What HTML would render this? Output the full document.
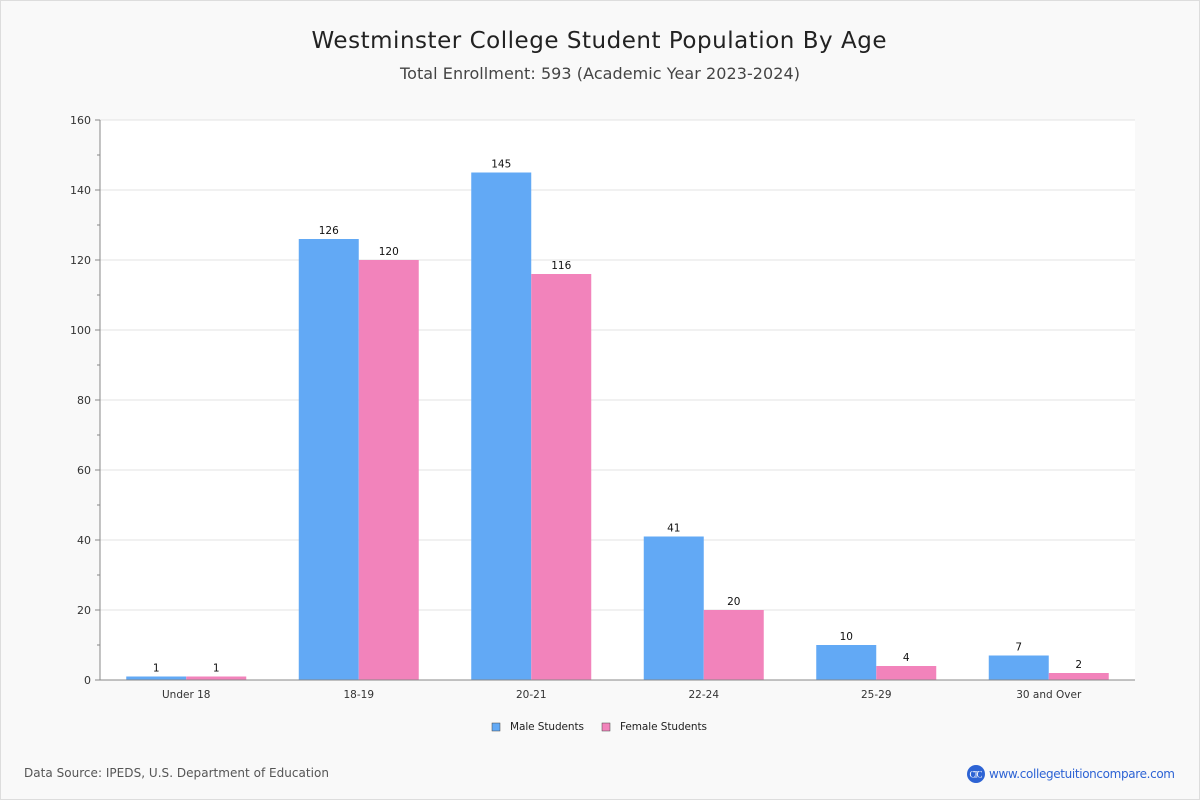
<!DOCTYPE html>
<html><head><meta charset="utf-8">
<style>
body{margin:0;width:1200px;height:800px;overflow:hidden;font-family:"DejaVu Sans","Liberation Sans",sans-serif;}
#wrap{position:absolute;left:0;top:0;width:1198px;height:798px;background:#f9f9f9;border:1px solid #ddd;}
</style></head>
<body>
<div id="wrap">
<svg id="chart" width="1200" height="800" style="position:absolute;left:-1px;top:-1px">
<text x="599" y="48" text-anchor="middle" font-size="23" textLength="575" fill="#222">Westminster College Student Population By Age</text>
<text x="600" y="79" text-anchor="middle" font-size="16" textLength="400" fill="#444">Total Enrollment: 593 (Academic Year 2023-2024)</text>
<rect x="100" y="120" width="1035" height="560" fill="#fff"/>
<g id="grid"></g><g id="bars"></g><g id="axes"></g>
<g>
<rect x="492" y="723" width="8" height="8" fill="#62a9f5" stroke="#444" stroke-width="0.5"/>
<text x="510" y="730" font-size="10.5" textLength="74" fill="#222">Male Students</text>
<rect x="602" y="723" width="8" height="8" fill="#f283bb" stroke="#444" stroke-width="0.5"/>
<text x="620" y="730" font-size="10.5" textLength="87" fill="#222">Female Students</text>
</g>
<text x="24" y="777" font-size="12" textLength="305" fill="#555">Data Source: IPEDS, U.S. Department of Education</text>
<circle cx="976" cy="774" r="9" fill="#2d63d4"/>
<text x="976" y="777.5" text-anchor="middle" font-size="9" textLength="13" fill="#fff" font-family="Liberation Serif,serif">CTC</text>
<text x="989" y="778" font-size="12" textLength="186" fill="#2d63d4">www.collegetuitioncompare.com</text>
</svg>
</div>
<script>
const categories=["Under 18","18-19","20-21","22-24","25-29","30 and Over"];
const maleValues=[1,126,145,41,10,7];
const femaleValues=[1,120,116,20,4,2];
const yTicks=[0,20,40,60,80,100,120,140,160];
const NS="http://www.w3.org/2000/svg";
const X0=100,X1=1135,Y0=680,Y1=120,YMAX=160;
const y=v=>Y0-(v/YMAX)*(Y0-Y1);
const band=(X1-X0)/categories.length;
const cx=i=>X0+band*(i+0.5);
function mk(tag,attrs,parent){const e=document.createElementNS(NS,tag);for(const k in attrs)e.setAttribute(k,attrs[k]);document.getElementById(parent).appendChild(e);return e;}
yTicks.forEach(t=>{
  const l=mk('line',{x1:X0,x2:X1,y1:y(t),y2:y(t),stroke:'#e3e3e3'},'grid');
  
  
  const tk=mk('line',{x1:X0-5,x2:X0,y1:y(t),y2:y(t),stroke:'#888'},'axes');
  
  
  const tx=mk('text',{x:X0-9,y:y(t)+4,'text-anchor':'end','font-size':11,fill:'#333'},'axes');
  tx.textContent=t;
  
  
});
for(let v=10;v<YMAX;v+=20){
  const m=mk('line',{x1:X0-3,x2:X0,y1:y(v),y2:y(v),stroke:'#888'},'axes');
  
  
}
const ax=mk('line',{x1:X0,x2:X0,y1:Y1,y2:Y0,stroke:'#888'},'axes');


const bx=mk('line',{x1:X0,x2:X1,y1:Y0,y2:Y0,stroke:'#888'},'axes');


const BW=60;
categories.forEach((c,i)=>{
  [[maleValues[i],'#62a9f5',-BW,'male'],[femaleValues[i],'#f283bb',0,'female']].forEach(([v,col,off,s])=>{
    const r=mk('rect',{x:cx(i)+off,y:y(v),width:BW,height:Y0-y(v),fill:col},'bars');
    
    
    const t=mk('text',{x:cx(i)+off+BW/2,y:y(v)-5,'text-anchor':'middle','font-size':10.5,fill:'#111'},'bars');
    t.textContent=v;
    
    
  });
  const xt=mk('text',{x:cx(i),y:Y0+18,'text-anchor':'middle','font-size':10.5,fill:'#333'},'axes');
  xt.textContent=c;
  
  
});
</script>
</body></html>
